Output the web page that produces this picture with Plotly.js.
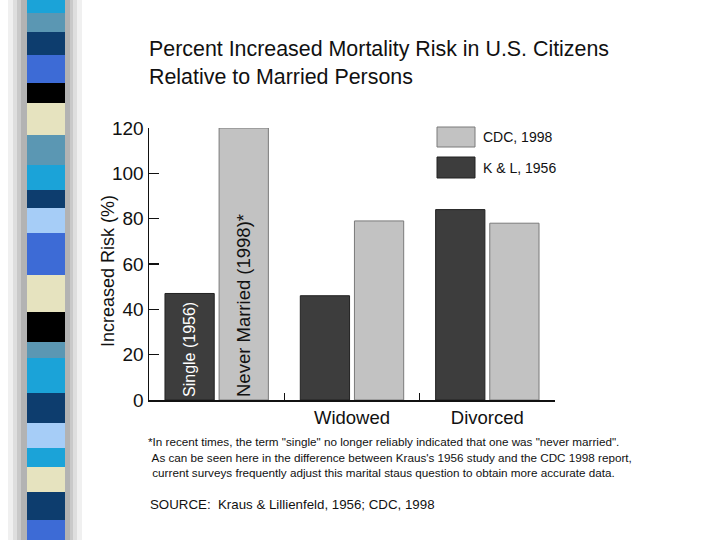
<!DOCTYPE html>
<html>
<head>
<meta charset="utf-8">
<script src="https://cdn.plot.ly/plotly-3.0.1.min.js"></script>
<style>html,body{margin:0;padding:0;background:#fff;}#chart{width:720px;height:540px;}</style>
</head>
<body>
<div id="chart"></div>
<script>
// ---- data ----
const categories = ["", "Widowed", "Divorced"];
const seriesKL = "K & L, 1956";
const seriesCDC = "CDC, 1998";
const valuesKL = [47, 46, 84];
const valuesCDC = [120, 79, 78];
const barTextKL = ["Single (1956)", "", ""];
const barTextCDC = ["Never Married (1998)*", "", ""];
const yTicks = [0, 20, 40, 60, 80, 100, 120];
const titleLines = ["Percent Increased Mortality Risk in U.S. Citizens", "Relative to Married Persons"];
const yTitle = "Increased Risk (%)";
const footLines = [
  "*In recent times, the term \"single\" no longer reliably indicated that one was \"never married\".",
  " As can be seen here in the difference between Kraus's 1956 study and the CDC 1998 report,",
  " current surveys frequently adjust this marital staus question to obtain more accurate data."
];
const sourceText = "SOURCE:  Kraus & Lillienfeld, 1956; CDC, 1998";
// decorative strip colours (top to bottom) and their pixel bounds
const stripColors = ["#1ba3d8","#5b97b3","#0d3d6e","#3d6bd6","#000000","#e6e3bf","#5b97b3","#1ba3d8","#0d3d6e","#a6cdf7","#3d6bd6","#e6e3bf","#000000","#5b97b3","#1ba3d8","#0d3d6e","#a6cdf7","#1ba3d8","#e6e3bf","#0d3d6e","#3d6bd6","#000000"];
const stripBounds = [0,13,32,55,83,103,135,165,190,208,233,275,312,342,358,393,423,448,467,492,520,540];

// ---- layout helpers ----
const W = 720, H = 540;
const M = {l: 149, r: 165, t: 128, b: 140};
const PW = W - M.l - M.r, PH = H - M.t - M.b;
const px = x => (x - M.l) / PW;
const py = y => 1 - (y - M.t) / PH;
const FONT = "Liberation Sans, Arial, Helvetica, sans-serif";
const DARK = "#3d3d3d", LIGHT = "#c2c2c2";

const traces = [
  {type: "bar", name: seriesKL, x: categories, y: valuesKL, text: barTextKL,
   textposition: "inside", insidetextanchor: "start", textangle: -90,
   textfont: {family: FONT, size: 16, color: "#ffffff"},
   marker: {color: DARK, line: {color: "#222222", width: 1}}, hoverinfo: "skip"},
  {type: "bar", name: seriesCDC, x: categories, y: valuesCDC, text: barTextCDC,
   textposition: "inside", insidetextanchor: "start", textangle: -90,
   textfont: {family: FONT, size: 18.5, color: "#111111"},
   marker: {color: LIGHT, line: {color: "#7a7a7a", width: 1}}, hoverinfo: "skip"}
];

const shapes = [];
// decorative strip with soft shadow
[[8, 82, "#f0f0f0"], [13, 77, "#dedede"], [17, 73, "#c9c9c9"], [21, 70, "#b3b3b3"]].forEach(s => {
  shapes.push({type: "rect", xref: "paper", yref: "paper", x0: px(s[0]), x1: px(s[1]), y0: py(540), y1: py(0),
    fillcolor: s[2], line: {width: 0}, layer: "below"});
});
for (let i = 0; i < stripColors.length; i++) {
  shapes.push({type: "rect", xref: "paper", yref: "paper", x0: px(27), x1: px(65),
    y0: py(stripBounds[i + 1]), y1: py(stripBounds[i]), fillcolor: stripColors[i], line: {width: 0}});
}
// legend boxes
shapes.push({type: "rect", xref: "paper", yref: "paper", x0: px(437), x1: px(475), y0: py(147), y1: py(127),
  fillcolor: LIGHT, line: {color: "#7a7a7a", width: 1}});
shapes.push({type: "rect", xref: "paper", yref: "paper", x0: px(437), x1: px(475), y0: py(178), y1: py(157),
  fillcolor: DARK, line: {color: "#222222", width: 1}});

const annotations = [
  {text: yTitle, xref: "paper", yref: "paper", x: px(108), y: py(271), xanchor: "center", yanchor: "middle",
   textangle: -90, showarrow: false, font: {family: FONT, size: 18, color: "#111"}},
  {text: seriesCDC, xref: "paper", yref: "paper", x: px(481), y: py(137), xanchor: "left", yanchor: "middle",
   showarrow: false, font: {family: FONT, size: 14, color: "#111"}},
  {text: seriesKL, xref: "paper", yref: "paper", x: px(481), y: py(168), xanchor: "left", yanchor: "middle",
   showarrow: false, font: {family: FONT, size: 14, color: "#111"}},
  {text: footLines[0], xref: "paper", yref: "paper", x: px(146), y: py(441), xanchor: "left", yanchor: "middle",
   showarrow: false, font: {family: FONT, size: 11.7, color: "#111"}},
  {text: footLines[1], xref: "paper", yref: "paper", x: px(147), y: py(457), xanchor: "left", yanchor: "middle",
   showarrow: false, font: {family: FONT, size: 11.7, color: "#111"}},
  {text: footLines[2], xref: "paper", yref: "paper", x: px(147), y: py(472), xanchor: "left", yanchor: "middle",
   showarrow: false, font: {family: FONT, size: 11.7, color: "#111"}},
  {text: sourceText, xref: "paper", yref: "paper", x: px(148), y: py(504), xanchor: "left", yanchor: "middle",
   showarrow: false, font: {family: FONT, size: 13.3, color: "#111"}}
];

const layout = {
  width: W, height: H,
  margin: M,
  paper_bgcolor: "#ffffff", plot_bgcolor: "#ffffff",
  showlegend: false,
  barmode: "group", bargap: 0.2, bargroupgap: 0.09,
  title: {text: titleLines.join("<br>"), xref: "container", yref: "container",
    x: 149 / W, xanchor: "left", y: 1 - 56 / H, yanchor: "top",
    font: {family: FONT, size: 21.4, color: "#111"}},
  xaxis: {type: "category", showline: true, linecolor: "#111", linewidth: 1.5,
    ticks: "inside", tickson: "boundaries", ticklen: 7, tickcolor: "#111", tickwidth: 1.5,
    showgrid: false, zeroline: false, fixedrange: true,
    tickfont: {family: FONT, size: 18.5, color: "#111"}},
  yaxis: {range: [0, 120], tickvals: yTicks, showline: true, linecolor: "#111", linewidth: 1.5,
    ticks: "inside", ticklen: 10, tickcolor: "#111", tickwidth: 1.5,
    showgrid: false, zeroline: false, fixedrange: true,
    tickfont: {family: FONT, size: 19, color: "#111"}},
  shapes: shapes,
  annotations: annotations
};

Plotly.newPlot("chart", traces, layout, {staticPlot: true, displayModeBar: false});
</script>
</body>
</html>
